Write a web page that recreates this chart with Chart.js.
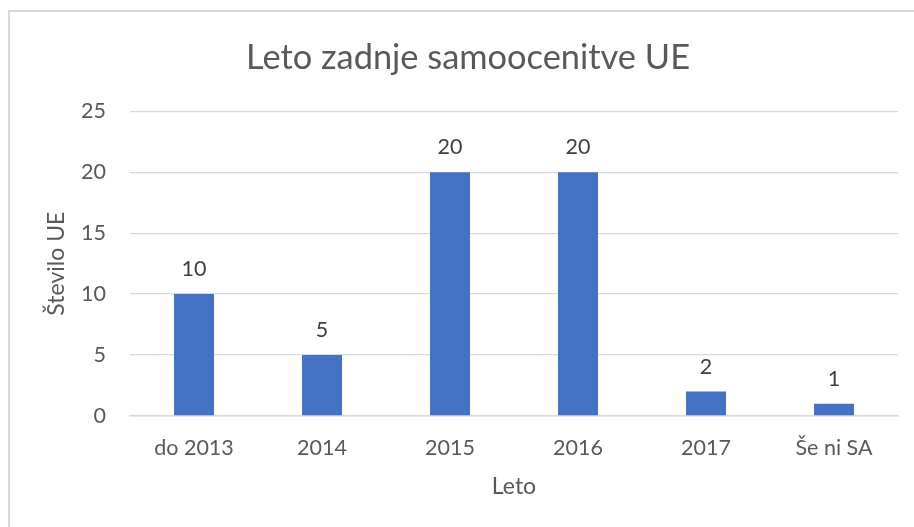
<!DOCTYPE html>
<html>
<head>
<meta charset="utf-8">
<script src="https://cdn.jsdelivr.net/npm/chart.js@4.4.1/dist/chart.umd.min.js"></script>
<style>
  html, body { margin: 0; padding: 0; background: #fff; overflow: hidden; width: 914px; height: 527px; }
  #frame { position: absolute; left: 8px; top: 10px; width: 1000px; height: 1000px; border: 2px solid #d9d9d9; box-sizing: border-box; }
  #c { position: absolute; left: 0; top: 0; }
</style>
</head>
<body>
<div id="frame"></div>
<canvas id="c" width="914" height="527"></canvas>
<script>
const categories = ["do 2013", "2014", "2015", "2016", "2017", "Še ni SA"];
const values = [10, 5, 20, 20, 2, 1];
const yTicks = [0, 5, 10, 15, 20, 25];
const chartTitle = "Leto zadnje samoocenitve UE";
const xTitle = "Leto";
const yTitle = "Število UE";

const FONT = "Lato";
const tickColor = "#595959";

const valueLabels = {
  id: "valueLabels",
  afterDatasetsDraw(chart) {
    const ctx = chart.ctx;
    const meta = chart.getDatasetMeta(0);
    ctx.save();
    ctx.font = "21.5px " + FONT;
    ctx.fillStyle = "#404040";
    ctx.textAlign = "center";
    ctx.textBaseline = "middle";
    meta.data.forEach((bar, i) => {
      ctx.fillText(String(values[i]), bar.x, bar.y - 25);
    });
    ctx.restore();
  }
};

new Chart(document.getElementById("c"), {
  type: "bar",
  data: {
    labels: categories,
    datasets: [{
      data: values,
      backgroundColor: "#4472C4",
      borderWidth: 0,
      categoryPercentage: 1,
      barPercentage: 0.3125
    }]
  },
  options: {
    responsive: false,
    animation: false,
    layout: { padding: { left: 38, right: 16, top: 0, bottom: 0 } },
    plugins: {
      legend: { display: false },
      tooltip: { enabled: false },
      title: {
        display: true,
        text: chartTitle,
        color: tickColor,
        font: { family: FONT, size: 34.4, weight: "normal", lineHeight: 1.2 },
        padding: { top: 37, bottom: 33 }
      }
    },
    scales: {
      x: {
        grid: { display: false, drawTicks: false },
        border: { display: true, color: "#d9d9d9", width: 1.5 },
        ticks: { color: tickColor, font: { family: FONT, size: 21.5 }, padding: 19, maxRotation: 0 },
        title: { display: true, text: xTitle, color: tickColor, font: { family: FONT, size: 23, lineHeight: 1.2 }, padding: { top: 0, bottom: 27 } },
        afterFit(scale) { scale.height = 111; }
      },
      y: {
        min: 0,
        max: 25,
        afterBuildTicks(scale) { scale.ticks = yTicks.map(v => ({ value: v })); },
        grid: { color: "#d9d9d9", lineWidth: 1.3, drawTicks: false },
        border: { display: false },
        ticks: { color: tickColor, font: { family: FONT, size: 21.5 }, padding: 24 },
        title: { display: true, text: yTitle, color: tickColor, font: { family: FONT, size: 23, lineHeight: 1.2 }, padding: { top: 5, bottom: 0 } },
        afterFit(scale) { scale.width = 92; }
      }
    }
  },
  plugins: [valueLabels]
});
</script>
</body>
</html>
